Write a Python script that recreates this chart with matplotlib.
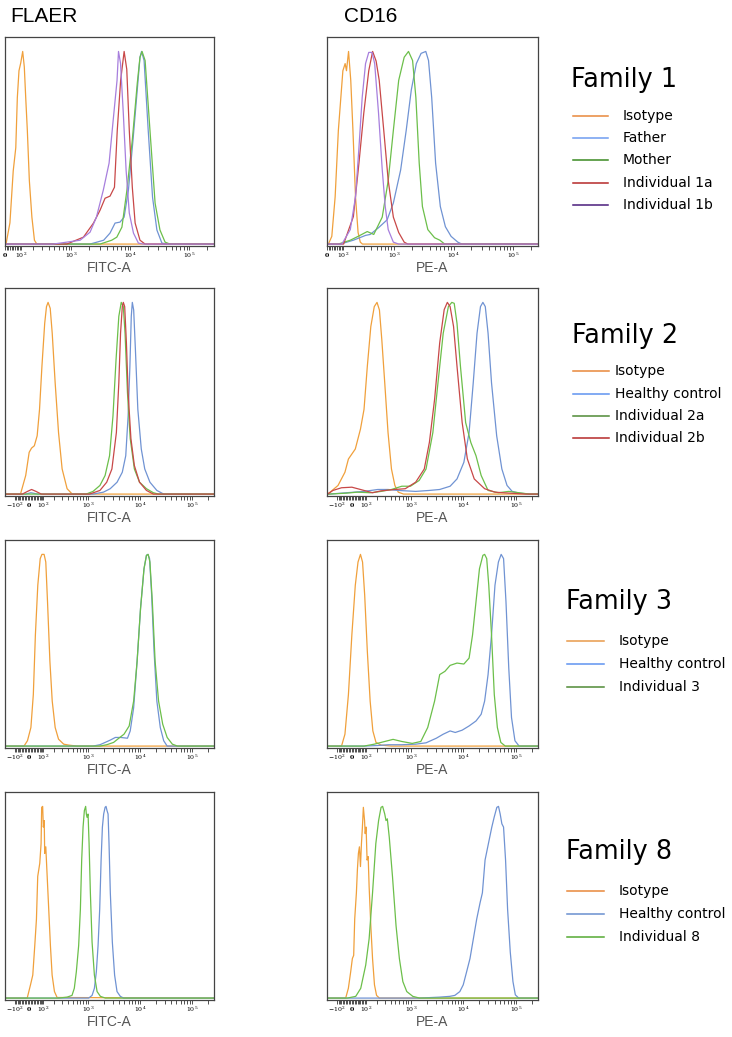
import numpy as np
import matplotlib.pyplot as plt
from matplotlib.lines import Line2D

plt.rcParams['mathtext.fontset'] = 'dejavuserif'

# histogram outlines: fluorescence intensity (x) vs relative count (y, peak = 1)

# ---- Family 1, FLAER ----
f1_flaer_iso_x = [6, 29, 49, 65, 75, 86, 98, 112, 124, 135, 148, 165, 188, 213, 238]
f1_flaer_iso_y = [0, .11, .38, .50, .76, .90, .94, 1.0, .92, .76, .59, .33, .14, .02, 0]
f1_flaer_father_x = [2075, 3530, 4524, 5510, 6680, 7850, 9280, 11100, 13100, 14580, 15500, 17100, 20100, 23800, 28200, 34300, 41800]
f1_flaer_father_y = [0, .02, .057, .109, .114, .14, .28, .54, .80, .97, 1.0, .953, .59, .243, .073, .005, 0]
f1_flaer_mother_x = [3067, 4830, 5900, 7200, 8750, 10800, 13100, 14580, 15800, 17800, 21530, 26300, 31800, 38850, 47000]
f1_flaer_mother_y = [0, .02, .036, .088, .28, .54, .834, .97, 1.0, .953, .59, .212, .073, .01, 0]
f1_flaer_1a_x = [830, 1600, 2370, 3067, 3727, 4524, 5380, 6000, 6850, 7850, 8700, 9600, 10800, 12060, 14580, 17800]
f1_flaer_1a_y = [0, .036, .109, .176, .238, .249, .295, .59, .85, 1.0, .907, .59, .295, .109, .02, 0]
f1_flaer_1b_x = [478, 634, 1404, 2075, 2660, 3480, 4360, 5060, 5950, 6300, 6820, 7600, 8480, 9600, 11300, 13700, 16700]
f1_flaer_1b_y = [0, .005, .02, .062, .14, .28, .42, .627, .85, 1.0, .938, .679, .383, .161, .057, .005, 0]

# ---- Family 1, CD16 ----
f1_cd16_iso_x = [8, 28, 48, 68, 98, 114, 124, 140, 158, 177, 201, 227, 251, 276]
f1_cd16_iso_y = [0, .04, .245, .59, .90, .937, .90, 1.0, .85, .59, .245, .06, .01, 0]
f1_cd16_father_x = [79, 181, 316, 385, 540, 760, 970, 1290, 1600, 1950, 2370, 2850, 3420, 3800, 4300, 5000, 6000, 7300, 9100, 11800, 13800]
f1_cd16_father_y = [0, .02, .045, .05, .085, .126, .213, .385, .59, .80, .937, .99, 1.0, .953, .76, .42, .195, .09, .04, .01, 0]
f1_cd16_mother_x = [68, 154, 227, 340, 445, 626, 793, 970, 1195, 1480, 1750, 2050, 2330, 2650, 3000, 3700, 4800, 5900, 7100]
f1_cd16_mother_y = [0, .02, .04, .065, .05, .14, .33, .59, .85, .97, 1.0, .953, .76, .42, .195, .075, .033, .02, 0]
f1_cd16_1a_x = [103, 181, 236, 293, 362, 425, 490, 555, 665, 793, 970, 1195, 1480, 1707]
f1_cd16_1a_y = [0, .143, .42, .68, .90, 1.0, .95, .85, .59, .33, .14, .06, .01, 0]
f1_cd16_1b_x = [91, 154, 201, 236, 273, 316, 362, 415, 462, 540, 626, 705, 793, 970, 1195]
f1_cd16_1b_y = [0, .075, .245, .50, .76, .937, .995, .995, .937, .68, .386, .195, .075, .01, 0]

# ---- Family 2, FLAER ----
f2_flaer_iso_x = [-60, -24, -1, 15, 33.5, 53, 70, 88, 110, 125, 139, 159, 179, 211, 252, 302, 384, 488]
f2_flaer_iso_y = [0, .097, .218, .24, .252, .304, .442, .667, .891, .978, 1.0, .969, .839, .580, .321, .131, .028, 0]
f2_flaer_hc_x = [-24, 10.5, 58, 1246, 1975, 2670, 3620, 4560, 5310, 5900, 6380, 6780, 7100, 7540, 8140, 9060, 10550, 12300, 15450, 20980, 28400]
f2_flaer_hc_y = [0, .007, 0, 0, .01, .028, .062, .114, .2, .408, .667, .927, 1.0, .96, .753, .442, .235, .131, .062, .019, 0]
f2_flaer_2a_x = [917, 1246, 1695, 2130, 2595, 3020, 3460, 3910, 4350, 4770, 5150, 5730, 6470, 7770, 9760, 13260, 17990, 22640]
f2_flaer_2a_y = [0, .014, .045, .097, .20, .408, .702, .927, 1.0, .978, .839, .528, .29, .131, .062, .028, .007, 0]
f2_flaer_2b_x = [-47, -12, 15, 45, 83, 1066, 1695, 2290, 2880, 3510, 3910, 4220, 4560, 4770, 5070, 5470, 5900, 6670, 7770, 9760, 13260, 17990]
f2_flaer_2b_y = [0, .014, .024, .014, 0, 0, .019, .062, .131, .321, .58, .839, .978, 1.0, .978, .788, .528, .29, .149, .062, .019, 0]

# ---- Family 2, CD16 ----
f2_cd16_iso_x = [-169, -94, -44, -20.6, 2, 24.7, 60, 86, 112, 142, 175, 204, 232, 262, 303, 355, 417, 488, 570, 722]
f2_cd16_iso_y = [.007, .045, .114, .183, .209, .235, .339, .442, .667, .874, .978, 1.0, .96, .805, .58, .321, .131, .045, .01, 0]
f2_cd16_hc_x = [-169, -32, 86, 213, 355, 570, 1236, 2260, 3550, 5600, 7570, 10230, 12850, 15400, 18190, 21150, 23500, 26100, 29480, 34300, 42970, 53900, 67600, 84740, 114600, 180000]
f2_cd16_hc_y = [0, .007, .014, .024, .024, .019, .014, .019, .024, .041, .079, .166, .321, .58, .839, .978, 1.0, .978, .839, .58, .304, .131, .045, .014, .005, 0]
f2_cd16_2a_x = [-169, -32, 36, 142, 253, 417, 668, 981, 1440, 1950, 2630, 3290, 4140, 5190, 6030, 6700, 7570, 8800, 11050, 13870, 17390, 21800, 29480, 46360, 72900, 114600, 180000]
f2_cd16_2a_y = [0, .005, .01, .007, .014, .024, .041, .041, .071, .131, .321, .58, .839, .978, 1.0, .995, .891, .667, .373, .269, .2, .097, .019, .007, .014, .007, 0]
f2_cd16_2b_x = [-187, -136, -68, 2, 60, 158, 253, 488, 780, 1236, 1805, 2260, 2840, 3550, 4320, 4960, 5600, 6510, 7570, 9490, 11900, 16100, 25370, 39840, 72900, 155000]
f2_cd16_2b_y = [0, .019, .033, .036, .024, .007, .017, .024, .028, .062, .131, .27, .495, .789, .962, 1.0, .978, .874, .667, .373, .184, .079, .028, .01, .005, 0]

# ---- Family 3, FLAER ----
f3_flaer_iso_x = [-35.6, -12.3, 10.5, 26.7, 40.7, 57.5, 75, 88, 105, 119, 134, 156, 179, 211, 252, 326, 416, 612]
f3_flaer_iso_y = [0, .028, .097, .269, .58, .839, .978, 1, 1, .96, .753, .442, .235, .097, .036, .01, .005, 0]
f3_flaer_hc_x = [1246, 1695, 2130, 2670, 3350, 4220, 5730, 6470, 7530, 8770, 10210, 11900, 13260, 14100, 15220, 16680, 18560, 20980, 24430, 28400, 33100]
f3_flaer_hc_y = [0, .007, .019, .031, .045, .045, .041, .079, .2, .442, .718, .925, .995, 1, .978, .788, .494, .235, .097, .028, 0]
f3_flaer_3_x = [1695, 2290, 3100, 3910, 4920, 6180, 7530, 8770, 10210, 11900, 13260, 14310, 15450, 17200, 19440, 22640, 27200, 33100, 41600, 52300]
f3_flaer_3_y = [0, .007, .019, .041, .062, .105, .235, .442, .718, .925, .995, 1, .96, .753, .442, .235, .114, .045, .01, 0]

# ---- Family 3, CD16 ----
f3_cd16_iso_x = [-68, -44, -20.6, 2, 24.7, 43, 60, 75, 91, 112, 136, 161, 193, 253, 417]
f3_cd16_iso_y = [0, .062, .269, .58, .839, .96, 1, .96, .788, .494, .235, .079, .019, .005, 0]
f3_cd16_hc_x = [86, 213, 355, 668, 1236, 1950, 3060, 4140, 5600, 7020, 9490, 12850, 17390, 21800, 25370, 29480, 34300, 39880, 46330, 52300, 58100, 64560, 72900, 82240, 95600, 114600]
f3_cd16_hc_y = [0, .003, .007, .007, .01, .017, .041, .062, .079, .071, .083, .105, .131, .166, .235, .373, .58, .839, .96, 1, .978, .753, .408, .149, .028, 0]
f3_cd16_3_x = [86, 175, 303, 449, 668, 1060, 1550, 2100, 2840, 3550, 4470, 5600, 7570, 10230, 12850, 14950, 17390, 20230, 23500, 25370, 27780, 30400, 34300, 38700, 44300, 51500, 62700]
f3_cd16_3_y = [0, .01, .024, .035, .024, .014, .024, .097, .235, .373, .39, .421, .433, .428, .459, .58, .753, .925, .995, 1, .978, .839, .58, .269, .097, .019, 0]

# ---- Family 8, FLAER ----
f8_flaer_iso_x = [-14, 7.8, 23, 36.5, 48, 57, 64.6, 71.7, 81.5, 86, 93.6, 99, 106, 110, 119, 131, 145, 161, 178, 203, 234]
f8_flaer_iso_y = [0, .069, .12, .274, .412, .635, .67, .703, .806, .995, 1.0, .892, .926, .755, .789, .635, .463, .274, .12, .034, .003]
f8_flaer_hc_x = [1028, 1195, 1325, 1445, 1560, 1677, 1785, 1890, 2000, 2130, 2220, 2320, 2430, 2535, 2685, 2935, 3245, 3610, 4175, 4830]
f8_flaer_hc_y = [0, .014, .051, .137, .274, .463, .72, .892, .96, .995, 1.0, .978, .96, .806, .549, .292, .12, .034, .009, 0]
f8_flaer_8_x = [255, 384, 483, 537, 589, 655, 708, 751, 799, 847, 897, 926, 955, 1000, 1046, 1108, 1195, 1325, 1493, 1730, 2160]
f8_flaer_8_y = [0, .005, .014, .051, .137, .274, .463, .72, .892, .978, 1.0, .96, .943, .96, .806, .549, .292, .12, .034, .009, 0]

# ---- Family 8, CD16 ----
f8_cd16_iso_x = [-39, -21, -5.7, 5.3, 14, 20.8, 32, 38.8, 45.7, 52.7, 60, 67, 74, 81, 90, 95, 102, 110, 119, 127, 142, 158, 177, 199, 231]
f8_cd16_iso_y = [0, .051, .137, .206, .223, .412, .549, .67, .755, .789, .686, .806, .892, .995, .926, .858, .892, .72, .738, .583, .377, .206, .069, .014, 0]
f8_cd16_hc_x = [1466, 3540, 5510, 6880, 8570, 9940, 11530, 13360, 15480, 17930, 20770, 23000, 25850, 29940, 34730, 38460, 43270, 46550, 50100, 53940, 58040, 63400, 69300, 77900, 87600, 97200, 112600]
f8_cd16_hc_y = [0, .005, .009, .014, .034, .069, .137, .206, .309, .412, .497, .549, .72, .806, .892, .943, .995, 1.0, .96, .909, .892, .72, .463, .24, .086, .017, 0]
f8_cd16_8_x = [-28, 27.6, 62, 99, 127, 158, 191, 222, 252, 273, 303, 322, 343, 376, 437, 515, 599, 700, 834, 1090, 1466]
f8_cd16_8_y = [0, .009, .051, .172, .309, .549, .806, .926, .995, 1.0, .96, .926, .935, .84, .635, .377, .206, .086, .034, .009, 0]

# legend text
fam1_labels = ['Isotype', 'Father', 'Mother', 'Individual 1a', 'Individual 1b']
fam2_labels = ['Isotype', 'Healthy control', 'Individual 2a', 'Individual 2b']
fam3_labels = ['Isotype', 'Healthy control', 'Individual 3']
fam8_labels = ['Isotype', 'Healthy control', 'Individual 8']

# colours of histogram lines
ORANGE, BLUE, GREEN, RED, PURPLE = '#F0A03C', '#7093D3', '#6CBF4A', '#C84848', '#A77FDD'

W, H = 732, 1037
C = 150.0  # arcsinh cofactor (logicle-like display)
XMAX = 262144


def fwd(x):
    return np.arcsinh(np.asarray(x, dtype=float) / C)


def inv(u):
    return C * np.sinh(np.asarray(u, dtype=float))


def add_axes_px(fig, left, top, right, bottom):
    return fig.add_axes([left / W, 1 - bottom / H, (right - left) / W, (bottom - top) / H])


def draw_panel(ax, curves, xmin, xlabel):
    for x, y, col in curves:
        xs = np.concatenate([[xmin], x, [XMAX]])
        ys = np.concatenate([[0], y, [0]])
        ax.plot(xs, ys, color=col, lw=0.9)
    ax.set_xscale('function', functions=(fwd, inv))
    ax.set_xlim(xmin, XMAX)
    ax.set_ylim(-0.01, 1.075)

    if xmin < 0:
        major = [-100, 0, 100, 1e3, 1e4, 1e5]
        labels = ['$-10^2$', '$\\mathbf{0}$', '$10^2$', '$10^3$', '$10^4$', '$10^5$']
        minor = list(range(-90, 100, 10))
    else:
        major = [0, 100, 1e3, 1e4, 1e5]
        labels = ['$\\mathbf{0}$', '$10^2$', '$10^3$', '$10^4$', '$10^5$']
        minor = list(range(10, 100, 10))
    for dec in [100, 1000, 10000, 100000]:
        minor += [k * dec for k in range(2, 10) if k * dec < XMAX]
    ax.set_xticks(major, labels)
    ax.set_xticks(minor, minor=True)
    ax.tick_params(axis='x', which='both', direction='out', length=3,
                   width=0.6, color='#333333', labelsize=4.5, pad=0.5)
    ax.tick_params(axis='y', left=False, labelleft=False)
    for s in ax.spines.values():
        s.set_color('#444444')
        s.set_linewidth(0.9)
    ax.set_xlabel(xlabel, fontsize=10, color='#555555', labelpad=0.5,
                  family='Liberation Sans')


def draw_legend(fig, title, title_x, title_y, labels, colors, ys, lx0, lx1, tx):
    fig.text(title_x / W, 1 - title_y / H, title, fontsize=18.4,
             ha='left', va='center', family='DejaVu Sans')
    for lab, col, y in zip(labels, colors, ys):
        fig.add_artist(Line2D([lx0 / W, lx1 / W], [1 - y / H, 1 - y / H],
                              transform=fig.transFigure, color=col, lw=1.1))
        fig.text(tx / W, 1 - y / H, lab, fontsize=10, ha='left',
                 va='center', family='DejaVu Sans')


fig = plt.figure(figsize=(W / 100, H / 100), dpi=100)

rows = [(37, 246), (288, 496), (540, 748), (792, 1000)]
xmins = [0, -194, -194, -194]

flaer_sets = [
    [(f1_flaer_iso_x, f1_flaer_iso_y, ORANGE), (f1_flaer_father_x, f1_flaer_father_y, BLUE),
     (f1_flaer_mother_x, f1_flaer_mother_y, GREEN), (f1_flaer_1a_x, f1_flaer_1a_y, RED),
     (f1_flaer_1b_x, f1_flaer_1b_y, PURPLE)],
    [(f2_flaer_iso_x, f2_flaer_iso_y, ORANGE), (f2_flaer_hc_x, f2_flaer_hc_y, BLUE),
     (f2_flaer_2a_x, f2_flaer_2a_y, GREEN), (f2_flaer_2b_x, f2_flaer_2b_y, RED)],
    [(f3_flaer_iso_x, f3_flaer_iso_y, ORANGE), (f3_flaer_hc_x, f3_flaer_hc_y, BLUE),
     (f3_flaer_3_x, f3_flaer_3_y, GREEN)],
    [(f8_flaer_iso_x, f8_flaer_iso_y, ORANGE), (f8_flaer_hc_x, f8_flaer_hc_y, BLUE),
     (f8_flaer_8_x, f8_flaer_8_y, GREEN)],
]
cd16_sets = [
    [(f1_cd16_iso_x, f1_cd16_iso_y, ORANGE), (f1_cd16_father_x, f1_cd16_father_y, BLUE),
     (f1_cd16_mother_x, f1_cd16_mother_y, GREEN), (f1_cd16_1a_x, f1_cd16_1a_y, RED),
     (f1_cd16_1b_x, f1_cd16_1b_y, PURPLE)],
    [(f2_cd16_iso_x, f2_cd16_iso_y, ORANGE), (f2_cd16_hc_x, f2_cd16_hc_y, BLUE),
     (f2_cd16_2a_x, f2_cd16_2a_y, GREEN), (f2_cd16_2b_x, f2_cd16_2b_y, RED)],
    [(f3_cd16_iso_x, f3_cd16_iso_y, ORANGE), (f3_cd16_hc_x, f3_cd16_hc_y, BLUE),
     (f3_cd16_3_x, f3_cd16_3_y, GREEN)],
    [(f8_cd16_iso_x, f8_cd16_iso_y, ORANGE), (f8_cd16_hc_x, f8_cd16_hc_y, BLUE),
     (f8_cd16_8_x, f8_cd16_8_y, GREEN)],
]

for (top, bottom), xmin, fset, cset in zip(rows, xmins, flaer_sets, cd16_sets):
    ax1 = add_axes_px(fig, 5, top, 214, bottom)
    draw_panel(ax1, fset, xmin, 'FITC-A')
    ax2 = add_axes_px(fig, 327, top, 538, bottom)
    draw_panel(ax2, cset, xmin, 'PE-A')

fig.text(44 / W, 1 - 17 / H, 'FLAER', fontsize=15, ha='center', va='center',
         family='Liberation Sans')
fig.text(371 / W, 1 - 17 / H, 'CD16', fontsize=15, ha='center', va='center',
         family='Liberation Sans')

# legends (line colours as drawn in the key)
draw_legend(fig, 'Family 1', 571, 80, fam1_labels,
            ['#E8883A', '#6F9CF0', '#3A8A22', '#B52A2A', '#4A1C7C'],
            [116, 138, 160, 183, 205], 573, 608, 623)
draw_legend(fig, 'Family 2', 572, 336, fam2_labels,
            ['#E8883A', '#5F93F0', '#4F8A36', '#B52A2A'],
            [371, 394, 416, 438], 573, 609, 615)
draw_legend(fig, 'Family 3', 566, 602, fam3_labels,
            ['#E89A4A', '#5F93F0', '#4F8A36'],
            [641, 664, 687], 567, 604, 619)
draw_legend(fig, 'Family 8', 566, 852, fam8_labels,
            ['#E8883A', '#6A8FD0', '#55AA33'],
            [891, 914, 937], 567, 604, 619)

fig.savefig('out.png', dpi=100)
